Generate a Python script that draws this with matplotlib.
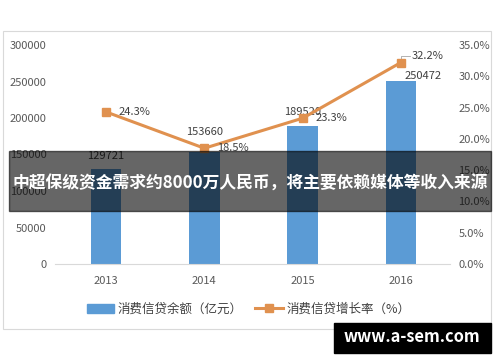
import matplotlib
matplotlib.use('Agg')
import matplotlib.pyplot as plt
from matplotlib.patches import Rectangle
from matplotlib.lines import Line2D
from matplotlib.patches import Patch

plt.rcParams['font.family'] = ['Noto Sans CJK SC', 'DejaVu Sans']

# 数据
years = ['2013', '2014', '2015', '2016']
balance = [129721, 153660, 189520, 250472]     # 消费信贷余额（亿元）
growth = [24.3, 18.5, 23.3, 32.2]              # 消费信贷增长率（%）
left_ticks = [0, 50000, 100000, 150000, 200000, 250000, 300000]
right_ticks = [0, 5, 10, 15, 20, 25, 30, 35]

bar_color = '#5b9bd5'
line_color = '#e0914f'
tick_color = '#595959'

fig = plt.figure(figsize=(5, 3.62), dpi=100)
W, H = 500, 362

# 外框
fig.patches.append(Rectangle((3 / W, 1 - 329 / H), 488 / W, 298 / H,
                             transform=fig.transFigure, fill=False,
                             edgecolor='#d9d9d9', lw=0.8))

ax = fig.add_axes([55 / W, 1 - 264 / H, 395 / W, 219 / H])
x = list(range(len(years)))
ax.bar(x, balance, width=0.31, color=bar_color, zorder=2)
ax.set_xlim(-0.52, 3.5)
ax.set_ylim(0, 300000)
ax.set_yticks(left_ticks)
ax.set_yticklabels([str(v) for v in left_ticks])
ax.set_xticks(x)
ax.set_xticklabels(years)
for s in ['top', 'right', 'left']:
    ax.spines[s].set_visible(False)
ax.spines['bottom'].set_color('#d9d9d9')
ax.tick_params(length=0, colors=tick_color, labelsize=8)
ax.tick_params(axis='x', pad=9)
ax.tick_params(axis='y', pad=6)

offsets = [(0, 6), (0, 11), (0, 6), (16, 0)]
for xi, v, off in zip(x, balance, offsets):
    ax.annotate(str(v), (xi, v), xytext=off, textcoords='offset points',
                ha='center', va='bottom', fontsize=8, color='#404040')

ax2 = ax.twinx()
ax2.plot(x, growth, color=line_color, lw=2.2, marker='s', ms=6,
         markerfacecolor=line_color, zorder=3)
ax2.set_ylim(0, 35)
ax2.set_yticks(right_ticks)
ax2.set_yticklabels(['%.1f%%' % v for v in right_ticks])
for s in ['top', 'right', 'left', 'bottom']:
    ax2.spines[s].set_visible(False)
ax2.tick_params(length=0, colors=tick_color, labelsize=8, pad=6)

goff = [(9, 0), (9, 0), (9, 0), (8, 5)]
for xi, v, off in zip(x, growth, goff):
    ax2.annotate('%.1f%%' % v, (xi, v), xytext=off, textcoords='offset points',
                 ha='left', va='center', fontsize=8, color='#404040')
# 32.2% 引导线
ax2.plot([3, 3, 3.09], [32.2, 33.3, 33.3], color='#a6a6a6', lw=0.6, zorder=2)

handles = [Patch(color=bar_color),
           Line2D([0], [0], color=line_color, lw=2.2, marker='s', ms=6)]
fig.legend(handles, ['消费信贷余额（亿元）', '消费信贷增长率（%）'],
           loc='center', bbox_to_anchor=(0.497, 1 - 309 / H), ncol=2,
           frameon=False, fontsize=9, labelcolor='#404040',
           handlelength=2.2, columnspacing=1.0, handletextpad=0.3)

# 标题横幅
fig.patches.append(Rectangle((9 / W, 1 - 211 / H), 482 / W, 60 / H,
                             transform=fig.transFigure, color='black',
                             alpha=0.6, zorder=10))
fig.text(250 / W, 1 - 184 / H, '中超保级资金需求约8000万人民币，将主要依赖媒体等收入来源',
         ha='center', va='center', color='white', fontsize=12.1,
         fontweight='bold', zorder=11)

# 水印
fig.patches.append(Rectangle((334 / W, 1 - 353 / H), 157 / W, 30 / H,
                             transform=fig.transFigure, color='black', zorder=10))
fig.text(412 / W, 1 - 337 / H, 'www.a-sem.com', ha='center', va='center',
         color='white', fontsize=11.8, fontweight='bold', zorder=11)

fig.savefig('out.png', dpi=100)
